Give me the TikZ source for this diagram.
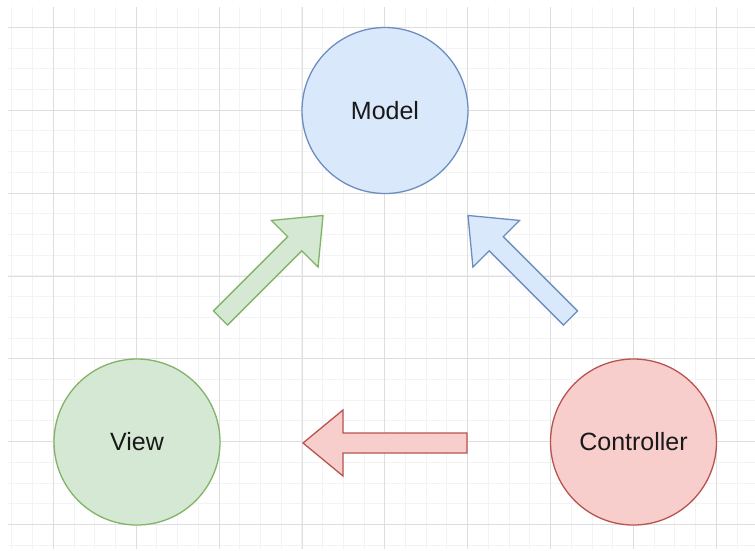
\documentclass[tikz,border=0pt]{standalone}
\usepackage{fontspec}
\setmainfont{Liberation Sans}
\definecolor{gridmajor}{HTML}{DEDEDE}
\definecolor{gridminor}{HTML}{F3F3F3}
\definecolor{bluefill}{HTML}{DAE8FC}
\definecolor{bluedraw}{HTML}{6C8EBF}
\definecolor{greenfill}{HTML}{D5E8D4}
\definecolor{greendraw}{HTML}{82B366}
\definecolor{redfill}{HTML}{F8CECC}
\definecolor{reddraw}{HTML}{B85450}
\tikzset{
  mvc/.style={circle, minimum size=166pt, inner sep=0pt, line width=1.3pt,
    font=\fontsize{25}{30}\selectfont, text=black!90},
  fatarrow/.style={line width=1.3pt, line join=miter},
}
% block arrow of length #1 from the local origin along +x
\newcommand{\blockarrow}[1]{%
  (0,-10) -- ({#1-40},-10) -- ({#1-40},-33) -- (#1,0) -- ({#1-40},33) -- ({#1-40},10) -- (0,10) -- cycle}
\begin{document}
\begin{tikzpicture}[x=1pt,y=-1pt]
\useasboundingbox (0,0) rectangle (755,550);
\fill[white] (0,0) rectangle (755,550);
% background grid
\begin{scope}
  \clip (8,7) rectangle (755,548);
  \foreach \i in {0,...,37} {
    \draw[gridminor, line width=1pt] ({11.86+20.72*\i},0) -- ({11.86+20.72*\i},550);
  }
  \foreach \i in {0,...,27} {
    \draw[gridminor, line width=1pt] (0,{6.58+20.72*\i}) -- (755,{6.58+20.72*\i});
  }
  \foreach \i in {0,...,8} {
    \draw[gridmajor, line width=1pt] ({53.3+82.9*\i},0) -- ({53.3+82.9*\i},550);
  }
  \foreach \i in {0,...,6} {
    \draw[gridmajor, line width=1pt] (0,{27.3+82.9*\i}) -- (755,{27.3+82.9*\i});
  }
\end{scope}
% the three components
\node[mvc, draw=bluedraw, fill=bluefill] (model) at (385,110.5) {Model};
\node[mvc, draw=greendraw, fill=greenfill] (view) at (137,442) {View};
\node[mvc, draw=reddraw, fill=redfill] (controller) at (633.5,442) {Controller};
% block arrows between them
\coordinate (gtail) at (220.5,318);
\coordinate (btail) at (570.5,318);
\coordinate (rtail) at (467,443);
\begin{scope}[shift={(gtail)}, rotate=45]
  \draw[fatarrow, draw=greendraw, fill=greenfill] \blockarrow{145};
\end{scope}
\begin{scope}[shift={(btail)}, rotate=135]
  \draw[fatarrow, draw=bluedraw, fill=bluefill] \blockarrow{145};
\end{scope}
\begin{scope}[shift={(rtail)}, rotate=180]
  \draw[fatarrow, draw=reddraw, fill=redfill] \blockarrow{164};
\end{scope}
\end{tikzpicture}
\end{document}
